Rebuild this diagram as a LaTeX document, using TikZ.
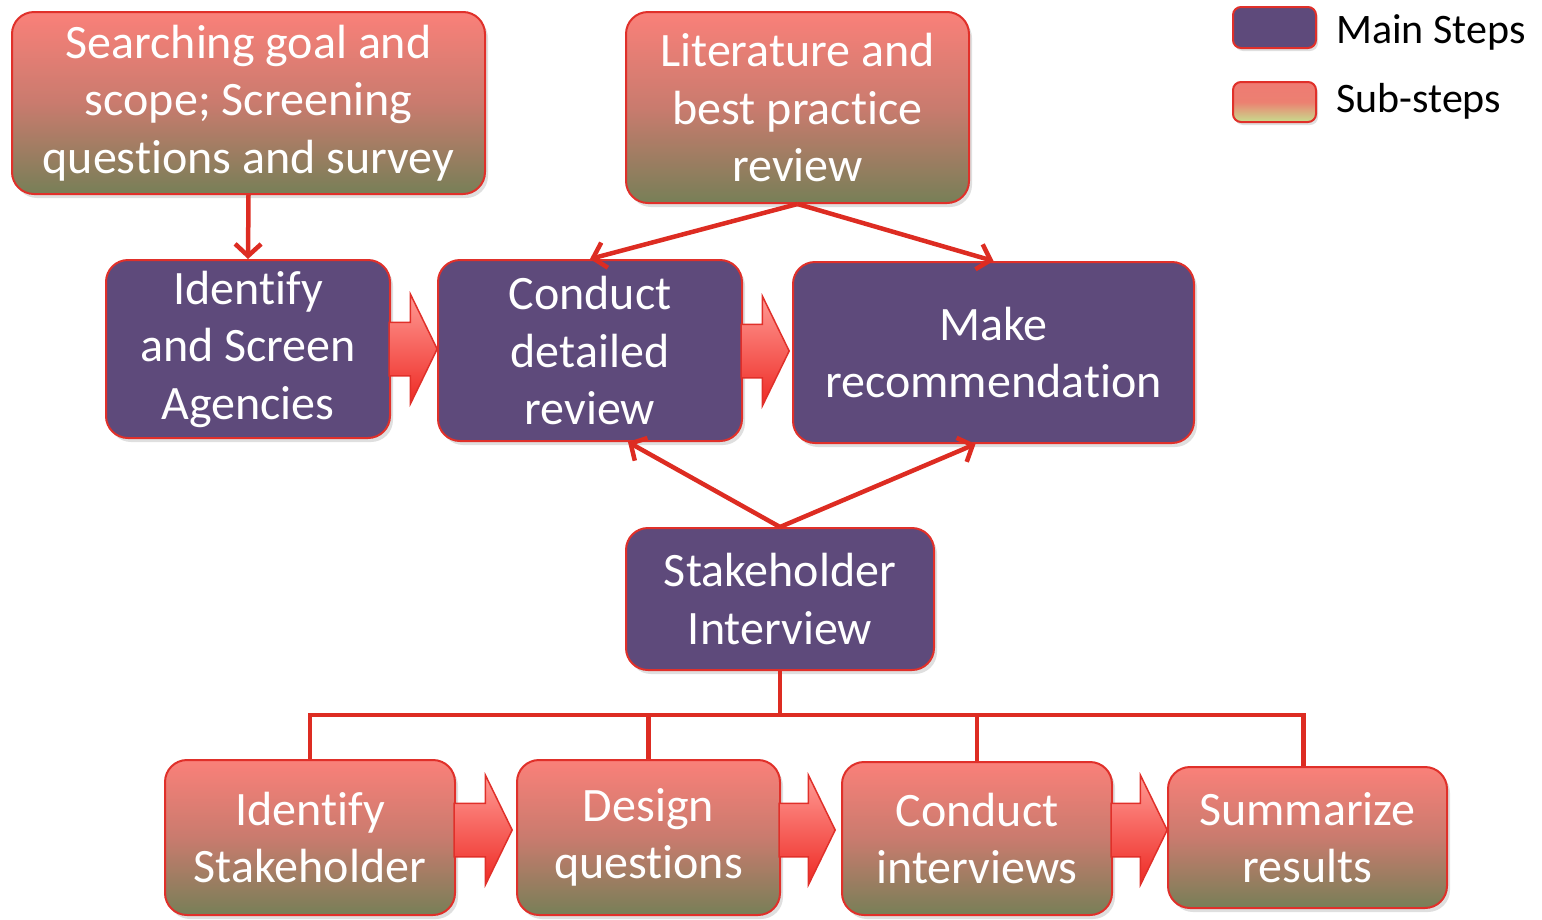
\documentclass[tikz,border=0pt]{standalone}
\usepackage{fontspec}
\setmainfont{Carlito}[Ligatures={NoCommon}]
\usetikzlibrary{shapes.arrows,arrows.meta,shadows,calc}
\definecolor{mainpurple}{HTML}{5E4A7B}
\definecolor{bordred}{HTML}{E0302A}
\definecolor{subtop}{HTML}{FA8079}
\definecolor{submid}{HTML}{C97B6E}
\definecolor{subbot}{HTML}{777F57}
\definecolor{legtop}{HTML}{EF7B73}
\definecolor{legmid}{HTML}{EC8071}
\definecolor{legbot}{HTML}{C6DE8E}
\definecolor{arrtop}{HTML}{FF9A94}
\definecolor{arrbot}{HTML}{EE2A24}
\definecolor{linered}{HTML}{DD2C22}
\tikzset{
  box/.style={draw=bordred, line width=2pt, rounded corners=22pt, align=center,
    text=white, font=\fontsize{48}{57.5}\selectfont, inner sep=0pt,
    drop shadow={opacity=0.25, shadow xshift=3pt, shadow yshift=-4pt}},
  mainbox/.style={box, fill=mainpurple},
  subbox/.style={box, top color=subtop, bottom color=subbot, middle color=submid},
  legbox/.style={draw=bordred, line width=2pt, rounded corners=8pt, inner sep=0pt,
    minimum width=83pt, drop shadow={opacity=0.25, shadow xshift=2pt, shadow yshift=-3pt}},
  legtext/.style={anchor=base west, inner sep=0pt, font=\fontsize{42}{50}\selectfont, text=black},
  conn/.style={draw=linered, line width=4.5pt, -{Straight Barb[length=12pt,width=26pt]}},
  tree/.style={draw=linered, line width=4.5pt},
  blkarrow/.style={single arrow, draw=bordred, line width=1.5pt, top color=arrtop, bottom color=arrbot,
    inner xsep=0pt, inner ysep=26pt, text height=0pt, text depth=0pt, text width=0pt,
    single arrow head extend=28pt, single arrow tip angle=128, minimum width=108pt, anchor=tip}
}
\begin{document}
\begin{tikzpicture}[x=1pt,y=-1pt]
\useasboundingbox (0,0) rectangle (1542,919);

% sub-step boxes (top)
\node[subbox, minimum width=473pt, minimum height=182pt] (goal) at (248.5,103)
  {Searching goal and\\scope; Screening\\questions and survey};
\node[subbox, minimum width=343pt, minimum height=191pt] (lit) at (797.5,107.5)
  {Literature and\\best practice\\review};

% main steps
\node[mainbox, minimum width=284pt, minimum height=178pt] (idag) at (248,349)
  {Identify\\and Screen\\Agencies};
\node[mainbox, minimum width=304pt, minimum height=181pt] (cond) at (590,350.5)
  {Conduct\\detailed\\review};
\node[mainbox, minimum width=401pt, minimum height=181pt] (make) at (993.5,352.5)
  {Make\\recommendation};
\node[mainbox, minimum width=308pt, minimum height=142pt] (stake) at (780,599)
  {Stakeholder\\Interview};

% sub-step boxes (bottom)
\node[subbox, minimum width=290pt, minimum height=155pt] (s1) at (310,837.5)
  {Identify\\Stakeholder};
\node[subbox, minimum width=263pt, minimum height=155pt] (s2) at (648.5,837.5)
  {Design\\questions};
\node[subbox, minimum width=270pt, minimum height=153pt] (s3) at (977,838.5)
  {Conduct\\interviews};
\node[subbox, minimum width=279pt, minimum height=141pt] (s4) at (1307.5,837.5)
  {Summarize\\results};

% legend
\node[legbox, fill=mainpurple, minimum height=41pt] (legmain) at (1274.5,27.5) {};
\node[legbox, top color=legtop, bottom color=legbot, middle color=legmid, minimum height=40pt] (legsub) at (1274.5,102) {};
\node[legtext] (legmaintext) at (1336,43) {Main Steps};
\node[legtext] (legsubtext) at (1336,112) {Sub-steps};

% block arrows
\node[blkarrow, minimum height=48pt] (ba1) at (438,349) {};
\node[blkarrow, minimum height=48pt] (ba2) at (790,351) {};
\node[blkarrow, minimum height=58pt] (ba3) at (513,830) {};
\node[blkarrow, minimum height=56pt] (ba4) at (836,830) {};
\node[blkarrow, minimum height=56pt] (ba5) at (1168,830) {};

% connectors
\draw[conn] (goal.south) -- (idag.north);
\draw[conn] (lit.south) -- (cond.north);
\draw[conn] (lit.south) -- (make.north);
\draw[conn] (stake.north) -- ([xshift=38pt]cond.south);
\draw[conn] (stake.north) -- ([xshift=-18pt]make.south);

% tree
\coordinate (bus) at ($(stake.south)+(0,44)$);
\draw[tree] (stake.south) -- (bus);
\draw[tree] (bus) -| (s1.north);
\draw[tree] (bus) -| (s2.north);
\draw[tree] (bus) -| (s3.north);
\draw[tree] (bus) -| ([xshift=-4pt]s4.north);
\end{tikzpicture}
\end{document}
